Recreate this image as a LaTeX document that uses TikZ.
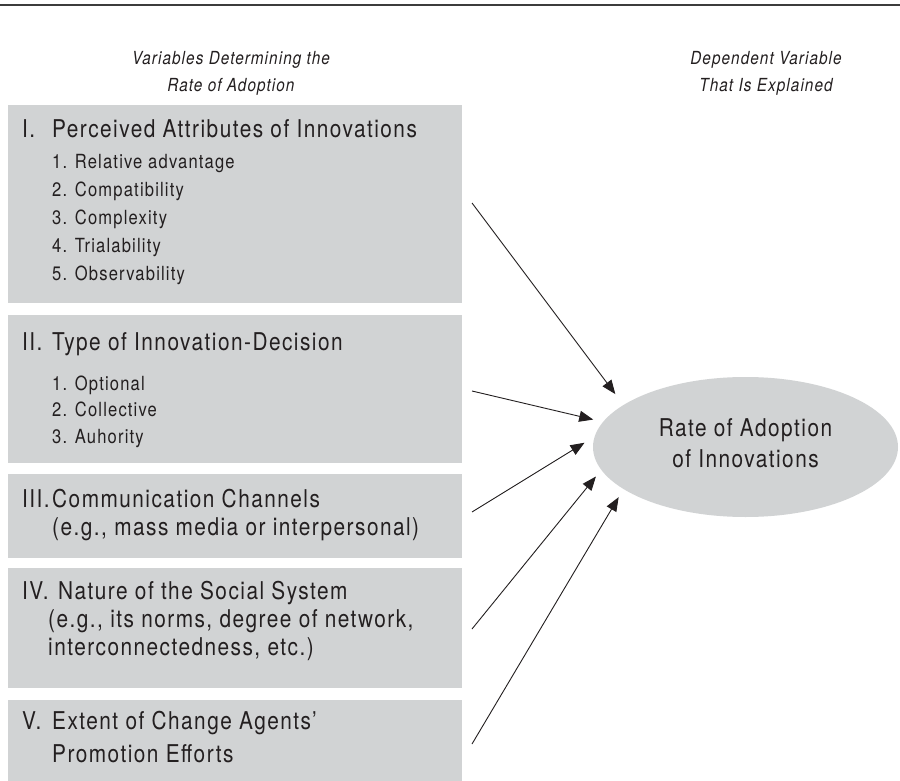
\documentclass[tikz,border=0pt]{standalone}
\usepackage{fontspec}
\setmainfont{TeX Gyre Heros}[FakeStretch=0.85, LetterSpace=6]
\usetikzlibrary{shapes.geometric, arrows.meta}
\definecolor{ink}{HTML}{231F20}
\definecolor{panelgray}{HTML}{D1D3D4}
\definecolor{rulegray}{HTML}{3C3C3C}
\tikzset{
    every node/.style={text=ink, inner sep=0pt},
    panel/.style={fill=panelgray, minimum width=454pt},
    heading/.style={anchor=base west, font=\fontsize{24.5}{28}\selectfont},
    entry/.style={anchor=base west, font=\fontsize{19.5}{27}\selectfont},
    caption/.style={anchor=base, font=\fontsize{18}{28}\selectfont\itshape},
    arrow/.style={-{Triangle[length=14pt,width=11pt]}, line width=0.9pt, draw=ink},
}

\begin{document}
\begin{tikzpicture}[x=1pt, y=-1pt]
  \useasboundingbox (0,0) rectangle (900,781);
  \fill[white] (0,0) rectangle (900,781);
  \draw[line width=1.3pt, rulegray] (0,5) -- (900,5);
  % column captions
  \node[caption] (capL1) at (231,65) {Variables Determining the};
  \node[caption] (capL2) at (231,92) {Rate of Adoption};
  \node[caption] (capR1) at (766,65) {Dependent Variable};
  \node[caption] (capR2) at (766,92) {That Is Explained};
  % panels
  \node[panel, minimum height=198pt] (attr) at (235,204) {};
  \node[panel, minimum height=148pt] (decision) at (235,389) {};
  \node[panel, minimum height=84pt] (channels) at (235,516) {};
  \node[panel, minimum height=120pt] (system) at (235,628) {};
  \node[panel, minimum height=81pt] (agents) at (235,740.5) {};
  % I.
  \node[heading] (numI) at (22,138) {I.};
  \node[heading] (headI) at (52,138) {Perceived Attributes of Innovations};
  \foreach \txt [count=\i] in {Relative advantage, Compatibility, Complexity, Trialability, Observability}
    \node[entry] (attr\i) at (52,{169+27.75*(\i-1)}) {\i. \txt};
  % II.
  \node[heading] (numII) at (22,350) {II.};
  \node[heading] (headII) at (52,350) {Type of Innovation-Decision};
  \foreach \txt [count=\i] in {Optional, Collective, Auhority}
    \node[entry] (decision\i) at (52,{390+26.5*(\i-1)}) {\i. \txt};
  % III.
  \node[heading] (numIII) at (22,507) {III.};
  \node[heading] (headIII) at (52,507) {Communication Channels};
  \node[heading] (lineIII) at (52,535) {(e.g., mass media or interpersonal)};
  % IV.
  \node[heading] (numIV) at (22,599) {IV.};
  \node[heading] (headIV) at (58,599) {Nature of the Social System};
  \node[heading] (lineIVa) at (48,627) {(e.g., its norms, degree of network,};
  \node[heading] (lineIVb) at (48,655) {interconnectedness, etc.)};
  % V.
  \node[heading] (numV) at (22,729) {V.};
  \node[heading] (headV) at (52,729) {Extent of Change Agents'};
  \node[heading] (lineV) at (52,762) {Promotion Efforts};
  % dependent variable
  \node[ellipse, fill=panelgray, minimum width=305pt, minimum height=140pt, outer sep=0pt]
        (rate) at (745.5,447) {};
  \node[align=center, font=\fontsize{24.5}{31}\selectfont]
        (rateText) at ([yshift=4pt]rate.center) {Rate of Adoption\\of Innovations};
  % arrows
  \coordinate (s1) at (472,203);
  \coordinate (s2) at (472,391);
  \coordinate (s3) at (472,512);
  \coordinate (s4) at (472,629);
  \coordinate (s5) at (472,744);
  \draw[arrow, shorten >=13.6pt] (s1) -- (rate.161.6);
  \draw[arrow, shorten >=10.2pt] (s2) -- (rate.170.7);
  \draw[arrow, shorten >=12pt] (s3) -- (rate.176.5);
  \draw[arrow, shorten >=8.6pt] (s4) -- (rate.189.6);
  \draw[arrow, shorten >=9.5pt] (s5) -- (rate.199.6);
\end{tikzpicture}
\end{document}
